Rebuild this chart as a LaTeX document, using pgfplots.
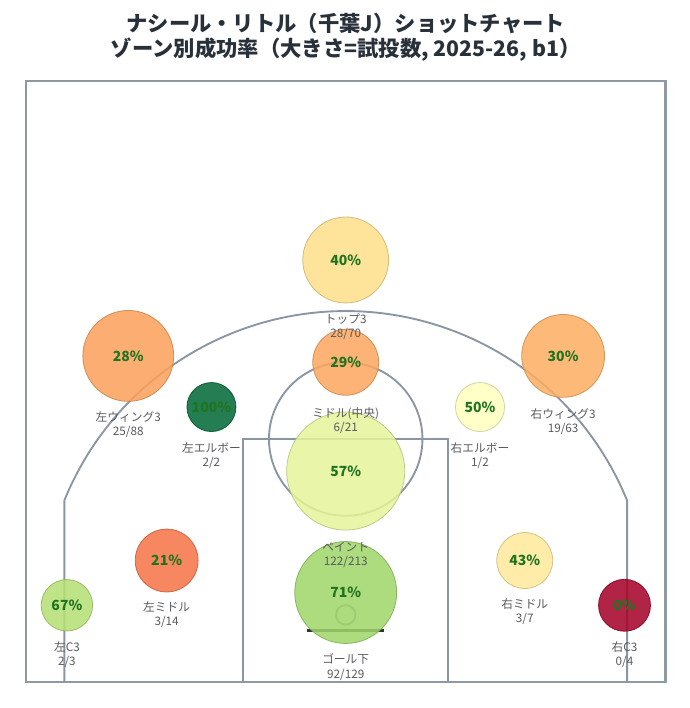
\documentclass[border=0pt]{standalone}
\usepackage{fontspec}
\setmainfont{Noto Sans CJK JP}
\usepackage{pgfplots}
\usepackage{pgfplotstable}
\pgfplotsset{compat=1.18}
\definecolor{court}{RGB}{138,150,163}
\definecolor{frame}{RGB}{142,153,162}
\definecolor{pctgreen}{RGB}{32,116,32}
\definecolor{lab}{RGB}{88,90,95}
\definecolor{ttl}{RGB}{40,48,58}
\definecolor{board}{RGB}{45,50,58}
\pgfplotstableread{
x y r pct
0 330 32.25 40
-170 255 34.1 28
170 255 31.1 30
0 250 24.75 29
-105 215 18.4 100
105 215 18.4 50
0 165 44.3 57
0 70 38.25 71
-140 95 23.6 21
140 95 21 43
-218 60 19.3 67
218 60 19.5 0
}\shots
\newcommand\pct[3]{\node[font=\bfseries\fontsize{10.5}{12}\selectfont, text=pctgreen] at (axis cs:#1,#2) {#3\%};}
\newcommand\zlab[4]{\node[align=center, font=\fontsize{8.8}{10.6}\selectfont, text=lab] at (axis cs:#1,#2) {#3\\#4};}
\begin{document}
\begin{tikzpicture}
\begin{axis}[
  set layers=standard,
  width=480pt, height=451.2pt, scale only axis,
  xmin=-250, xmax=250, ymin=0, ymax=470,
  xtick=\empty, ytick=\empty,
  axis line style={frame, line width=1.9pt},
  colormap={rdylgn}{rgb255(0cm)=(165,0,38); rgb255(1cm)=(215,48,39); rgb255(2cm)=(244,109,67); rgb255(3cm)=(253,174,97); rgb255(4cm)=(254,224,139); rgb255(5cm)=(255,255,191); rgb255(6cm)=(217,239,139); rgb255(7cm)=(166,217,106); rgb255(8cm)=(102,189,99); rgb255(9cm)=(26,152,80); rgb255(10cm)=(0,104,55)},
  point meta min=0, point meta max=100,
  clip=false,
]
% court
\draw[court, line width=1.4pt] (axis cs:-80,0) -- (axis cs:-80,190) -- (axis cs:80,190) -- (axis cs:80,0);
\draw[court, line width=1.4pt] (axis cs:0,190) circle[radius=57.6pt];
\draw[court, line width=1.4pt] (axis cs:-220,0) -- (axis cs:-220,141.97) arc[start angle=157.87, end angle=22.13, radius=228pt] -- (axis cs:220,0);
\draw[court, line width=1.4pt] (axis cs:0,52.5) circle[radius=7.3pt];
\draw[board, line width=2.2pt] (axis cs:-30,40) -- (axis cs:30,40);
% bubbles
\addplot[scatter, only marks, mark=*,
  visualization depends on={\thisrow{r} \as \rad},
  scatter/@pre marker code/.append style={/tikz/mark size=\rad},
  mark options={fill opacity=0.86, draw opacity=0.86, line width=0.6pt},
  point meta=\thisrow{pct}]
  table[x=x, y=y] {\shots};
\begin{pgfonlayer}{axis foreground}
% percentages
\pct{0}{330}{40}
\pct{-170}{255}{28}
\pct{170}{255}{30}
\pct{0}{250}{29}
\pct{-105}{215}{100}
\pct{105}{215}{50}
\pct{0}{165}{57}
\pct{0}{70}{71}
\pct{-140}{95}{21}
\pct{140}{95}{43}
\pct{-218}{60}{67}
\pct{218}{60}{0}
% zone labels
\zlab{0}{277.7}{トップ3}{28/70}
\zlab{-170}{201.2}{左ウィング3}{25/88}
\zlab{170}{203.3}{右ウィング3}{19/63}
\zlab{0}{204.5}{ミドル(中央)}{6/21}
\zlab{-105}{177}{左エルボー}{2/2}
\zlab{105}{177}{右エルボー}{1/2}
\zlab{0}{99.2}{ペイント}{122/213}
\zlab{0}{11.7}{ゴール下}{92/129}
\zlab{-140}{52.5}{左ミドル}{3/14}
\zlab{140}{54.8}{右ミドル}{3/7}
\zlab{-218}{21.2}{左C3}{2/3}
\zlab{218}{21.2}{右C3}{0/4}
\end{pgfonlayer}
\end{axis}
\node[font=\bfseries\fontsize{16}{18}\selectfont, text=ttl] at ([yshift=42.75pt]current axis.north) {ナシール・リトル（千葉J）ショットチャート};
\node[font=\bfseries\fontsize{16}{18}\selectfont, text=ttl] at ([yshift=23.25pt]current axis.north) {ゾーン別成功率（大きさ=試投数, 2025-26, b1）};
\path ([xshift=-19.5pt,yshift=-19.5pt]current axis.south west) rectangle ([xshift=18pt,yshift=60.75pt]current axis.north east);
\end{tikzpicture}
\end{document}
